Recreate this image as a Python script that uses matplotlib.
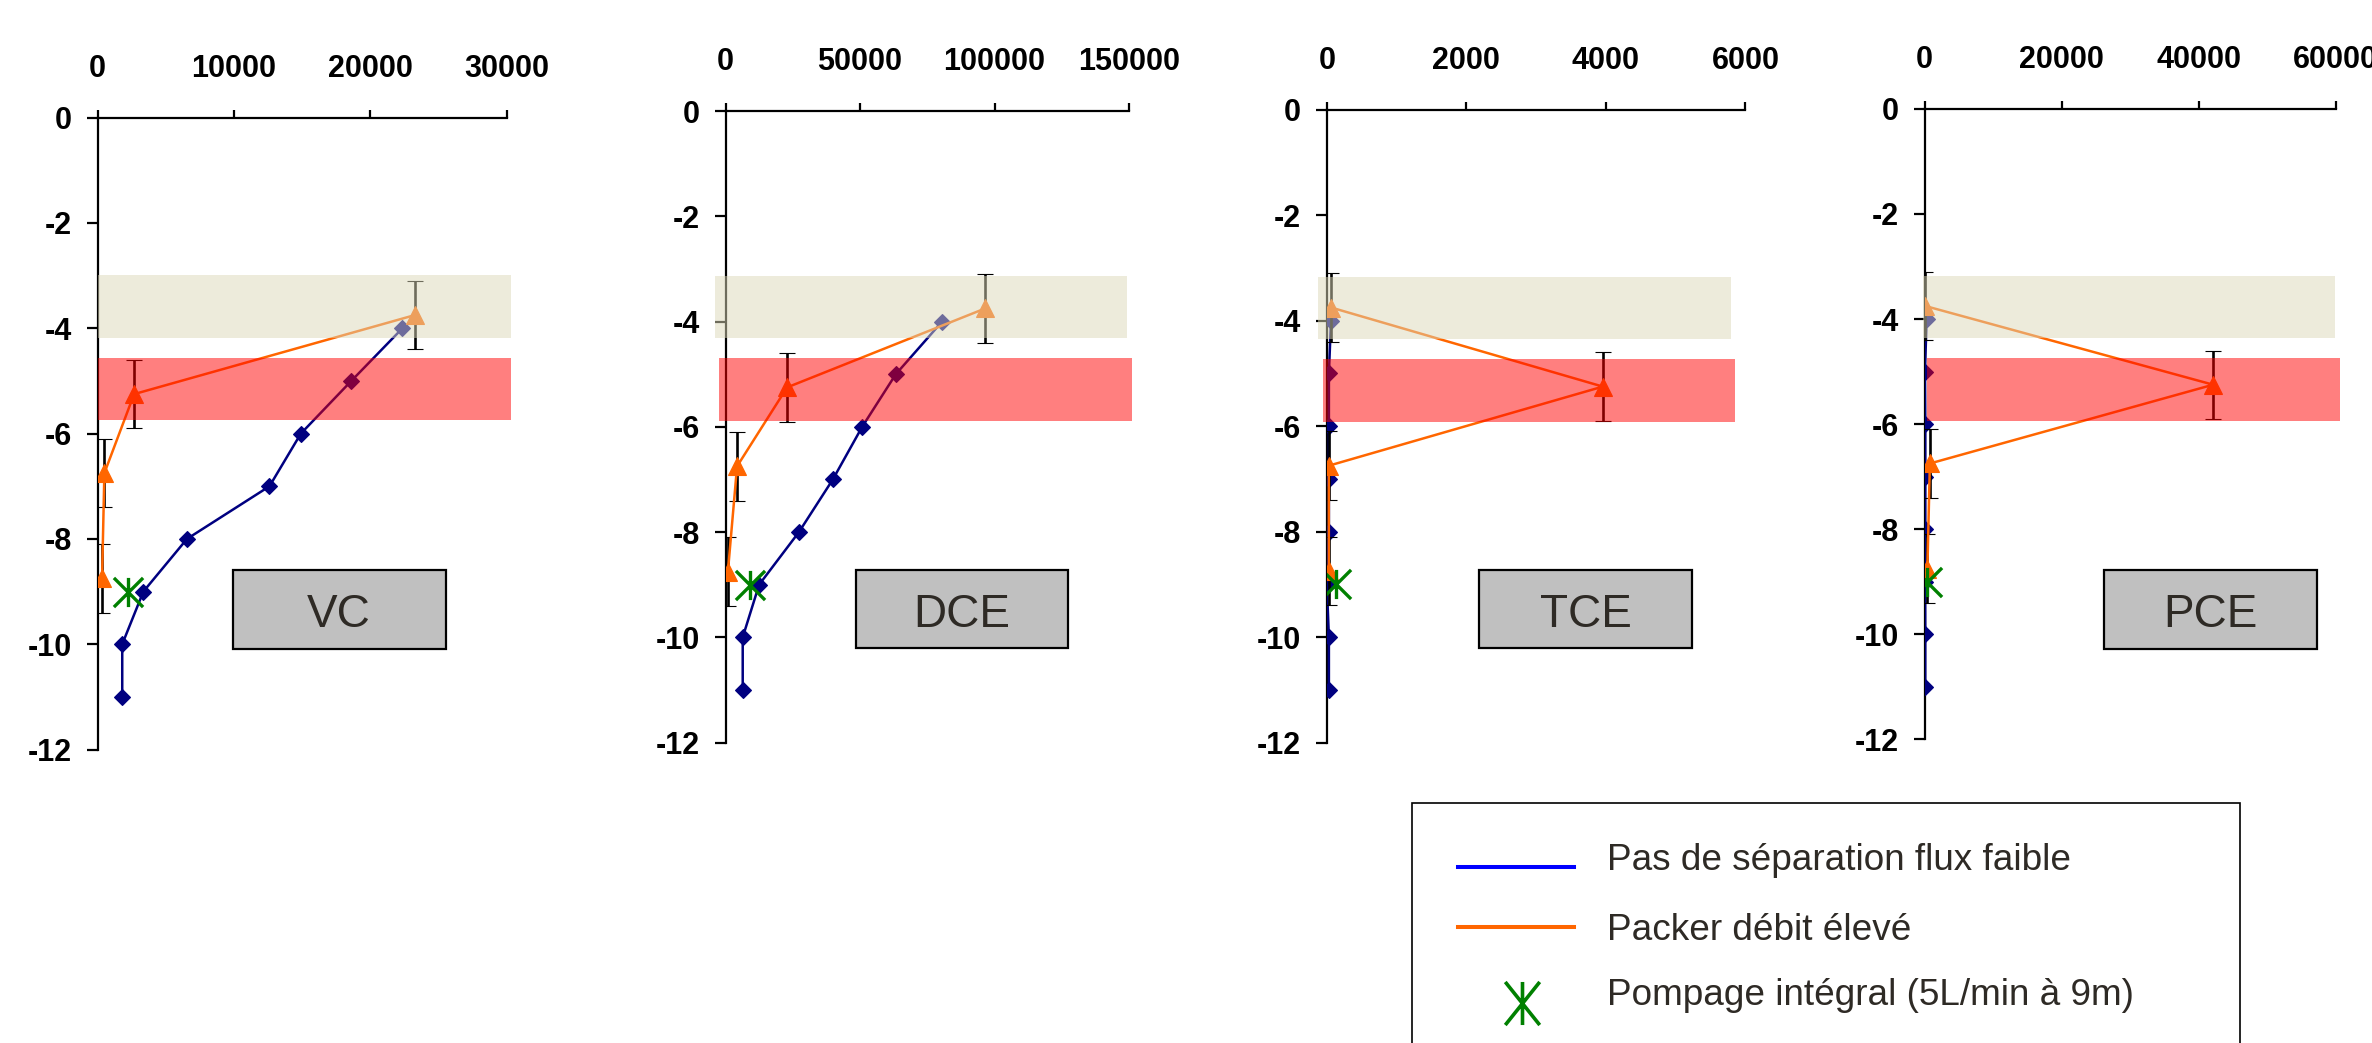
import matplotlib
matplotlib.use("Agg")
import matplotlib.pyplot as plt
from matplotlib.patches import Rectangle
from matplotlib.lines import Line2D
from matplotlib.path import Path

plt.rcParams['font.family'] = ['Liberation Sans', 'DejaVu Sans']

# ---- data ----
names = ['VC', 'DCE', 'TCE', 'PCE']
x_max = [30000, 150000, 6000, 60000]
x_step = [10000, 50000, 2000, 20000]

# no separation, low flux (blue diamonds)
depth_low = [-4, -5, -6, -7, -8, -9, -10, -11]
low_vc = [22350, 18600, 14900, 12600, 6550, 3350, 1800, 1800]
low_dce = [80500, 63300, 50800, 39900, 27300, 12500, 6400, 6400]
low_tce = [60, 30, 30, 30, 30, 0, 30, 30]
low_pce = [300, 50, 100, 100, 100, 80, 100, 100]

# packer, high flow (orange triangles, +/- error)
depth_packer = [-3.75, -5.25, -6.75, -8.75]
packer_vc = [23250, 2670, 490, 320]
packer_dce = [96500, 22900, 4300, 900]
packer_tce = [62, 3956, 29, 29]
packer_pce = [50, 42100, 770, 410]
packer_err = [0.65, 0.65, 0.65, 0.65]

# integral pumping at 9 m (green star)
depth_pump = -9
pump = [2200, 9100, 134, 300]

# shaded depth intervals per panel (top, bottom)
band_beige = [(-2.99, -4.18), (-3.14, -4.32), (-3.17, -4.35), (-3.19, -4.37)]
band_red = [(-4.56, -5.75), (-4.70, -5.89), (-4.72, -5.92), (-4.75, -5.95)]

low = [low_vc, low_dce, low_tce, low_pce]
packer = [packer_vc, packer_dce, packer_tce, packer_pce]

# ---- layout (pixels of the 2372x1043 figure) ----
W, H = 2372, 1043
axes_px = [(97.7, 117.7, 506.7, 749.5),
           (725.5, 111.2, 1129.0, 742.5),
           (1326.8, 109.8, 1745.4, 742.5),
           (1924.6, 108.9, 2335.8, 739.3)]
beige_x = [(0.0, 1.01), (-0.027, 0.995), (-0.021, 0.965), (-0.004, 0.997)]
red_x = [(0.0, 1.01), (-0.016, 1.007), (-0.009, 0.976), (0.007, 1.01)]
boxes_px = [(232.7, 570.0, 445.7, 648.7),
            (855.7, 570.3, 1068.2, 648.4),
            (1479.3, 570.0, 1692.3, 648.3),
            (2103.5, 570.0, 2316.5, 648.5)]

NAVY = '#000080'
ORANGE = '#FF6600'
GREEN = '#008000'
TXT = '#2E2A25'

star = Path([(-1, -1), (1, 1), (-1, 1), (1, -1), (0, -1), (0, 1)],
            [Path.MOVETO, Path.LINETO] * 3)
star_leg = Path([(-0.8, -1), (0.8, 1), (-0.8, 1), (0.8, -1), (0, -1), (0, 1)],
                [Path.MOVETO, Path.LINETO] * 3)


def fx(x):
    return x / W


def fy(y):
    return 1 - y / H


fig = plt.figure(figsize=(W / 100, H / 100), dpi=100)

for i in range(4):
    x0, y0, x1, y1 = axes_px[i]
    ax = fig.add_axes([fx(x0), fy(y1), (x1 - x0) / W, (y1 - y0) / H])
    ax.set_facecolor('none')

    ax.plot(low[i], depth_low, color=NAVY, lw=1.8, marker='D', ms=8,
            mew=0.8, zorder=3)
    ax.errorbar(packer[i], depth_packer, yerr=packer_err, color=ORANGE,
                lw=1.8, marker='^', ms=12.5, mew=0.8, ecolor='black',
                elinewidth=1.9, capsize=6, capthick=1.9, zorder=4)
    ax.plot([pump[i]], [depth_pump], ls='none', marker=star, ms=21,
            mew=2.4, color=GREEN, zorder=5)

    ax.axhspan(band_beige[i][1], band_beige[i][0], xmin=beige_x[i][0],
               xmax=beige_x[i][1], color='#DDD9B9', alpha=0.5, lw=0,
               zorder=10, clip_on=False)
    ax.axhspan(band_red[i][1], band_red[i][0], xmin=red_x[i][0],
               xmax=red_x[i][1], color='#FF0000', alpha=0.5, lw=0,
               zorder=10, clip_on=False)

    ax.set_xlim(0, x_max[i])
    ax.set_ylim(-12, 0)
    ax.spines[['bottom', 'right']].set_visible(False)
    for s in ('top', 'left'):
        ax.spines[s].set_linewidth(1.6)

    xt = list(range(0, x_max[i] + 1, x_step[i]))
    ax.xaxis.tick_top()
    ax.set_xticks(xt, [str(v) for v in xt], fontweight='bold', fontsize=22)
    yt = list(range(0, -13, -2))
    ax.set_yticks(yt, [str(v) for v in yt], fontweight='bold', fontsize=22)
    ax.tick_params(axis='x', direction='out', length=6, width=1.6, pad=18.5)
    ax.tick_params(axis='y', direction='out', length=8, width=1.6, pad=10.5)

    # compound name box
    bx0, by0, bx1, by1 = boxes_px[i]
    fig.add_artist(Rectangle((fx(bx0), fy(by1)), (bx1 - bx0) / W,
                             (by1 - by0) / H, transform=fig.transFigure,
                             facecolor='#C0C0C0', edgecolor='black', lw=1.6))
    fig.text(fx((bx0 + bx1) / 2), fy(by1 - 21.4), names[i], ha='center',
             va='baseline', fontsize=33, color=TXT)

# ---- legend ----
fig.add_artist(Rectangle((fx(1411.7), fy(1060)), (2240 - 1411.7) / W,
                         (1060 - 803.3) / H, transform=fig.transFigure,
                         facecolor='white', edgecolor='black', lw=1.2))
fig.add_artist(Line2D([fx(1458.3), fx(1574)], [fy(867.3)] * 2,
                      transform=fig.transFigure, color='#0000FF', lw=2.9))
fig.add_artist(Line2D([fx(1458.3), fx(1574)], [fy(926.7)] * 2,
                      transform=fig.transFigure, color=ORANGE, lw=2.9))
fig.add_artist(Line2D([fx(1521.7)], [fy(1003.3)], transform=fig.transFigure,
                      ls='none', marker=star_leg, ms=31, mew=2.6,
                      color=GREEN))
leg_labels = ['Pas de séparation flux faible', 'Packer débit élevé',
              'Pompage intégral (5L/min à 9m)']
for lab, base in zip(leg_labels, [870, 940, 1005]):
    fig.text(fx(1606.7), fy(base), lab, ha='left', va='baseline',
             fontsize=26.6, color=TXT)

fig.savefig('out.png', dpi=100)
